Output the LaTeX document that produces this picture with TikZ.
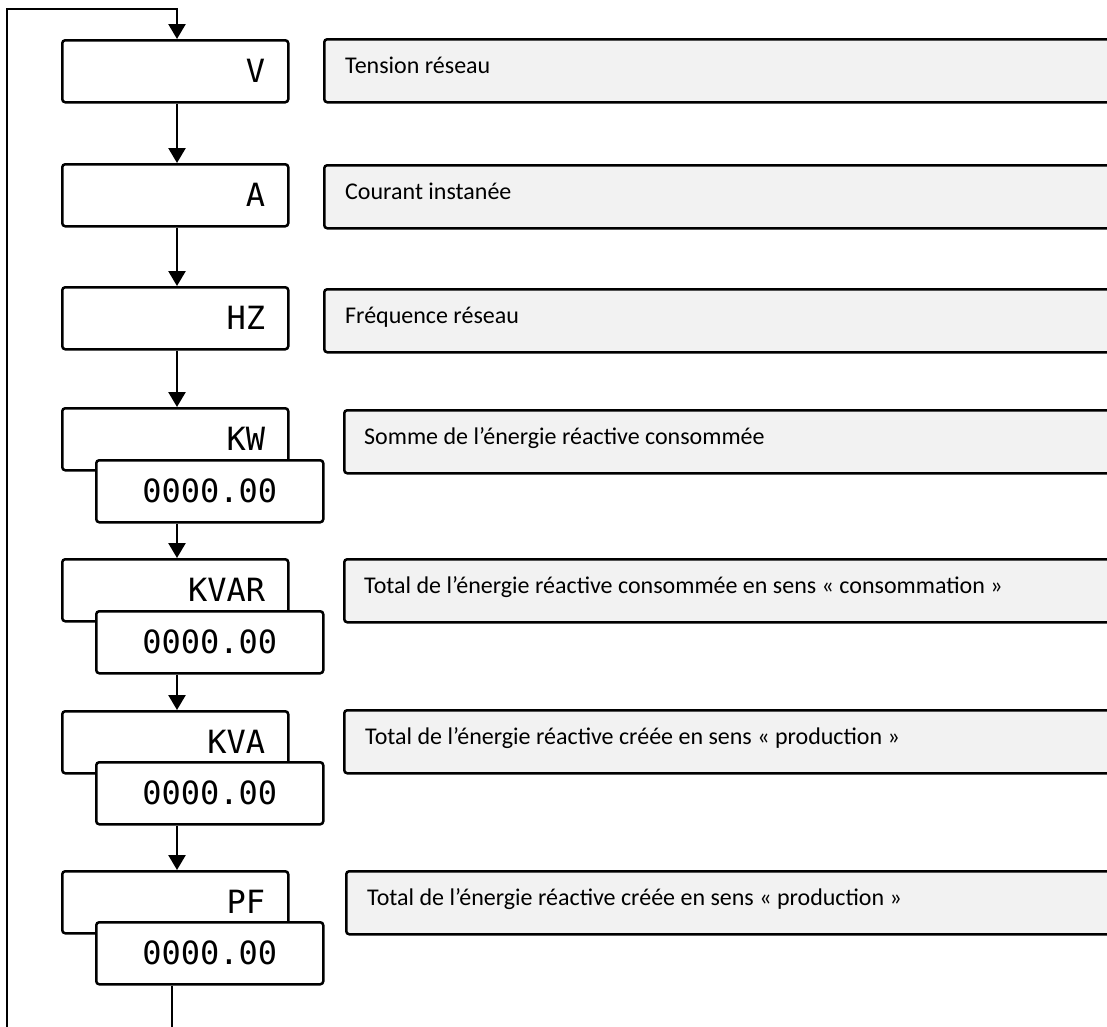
\documentclass[tikz,border=0pt]{standalone}
\usepackage{fontspec}
\setmainfont{Carlito}
\newfontfamily\lcdfont{DejaVu Sans Mono}
\usepackage{xcolor}
\usetikzlibrary{arrows.meta, calc}
\definecolor{infogray}{HTML}{F2F2F2}

\begin{document}
\begin{tikzpicture}[
    x=1pt, y=-1pt,
    disp/.style={rectangle, draw, rounded corners=3pt, line width=2.5pt, fill=white, anchor=north west, minimum width=226pt, minimum height=62pt, text width=180pt, align=right, inner xsep=23pt, inner ysep=0pt, font=\lcdfont\fontsize{32}{34}\selectfont},
    value/.style={rectangle, draw, rounded corners=3pt, line width=2.5pt, fill=white, anchor=north west, minimum width=227pt, minimum height=62pt, align=center, inner sep=0pt, font=\lcdfont\fontsize{32}{34}\selectfont},
    info/.style={rectangle, draw, rounded corners=3pt, line width=2.5pt, fill=infogray, anchor=north west, minimum width=820pt, minimum height=63pt},
    infotext/.style={anchor=base west, inner sep=0pt, font=\fontsize{24}{28}\selectfont},
    arrow/.style={-{Triangle[length=15pt, width=17pt]}, line width=2.5pt}
]
\useasboundingbox (0,0) rectangle (1107,1026);
\clip (0,0) rectangle (1107,1026);

% Displays
\node[disp] (v) at (61,39) {V};
\node[disp] (a) at (61,163) {A};
\node[disp] (hz) at (61,286) {HZ};

\node[disp] (kw) at (61,407) {KW};
\node[value] (kwval) at (95,459) {0000.00};

\node[disp] (kvar) at (61,558) {KVAR};
\node[value] (kvarval) at (95,610) {0000.00};

\node[disp] (kva) at (61,710) {KVA};
\node[value] (kvaval) at (95,761) {0000.00};

\node[disp] (pf) at (61,870) {PF};
\node[value] (pfval) at (95,921) {0000.00};

% Descriptions
\node[info] (vinfo) at (323,38) {};
\node[infotext] (vtext) at ($(vinfo.north west)+(22,35)$) {Tension réseau};
\node[info] (ainfo) at (323,164) {};
\node[infotext] (atext) at ($(ainfo.north west)+(22,35)$) {Courant instanée};
\node[info] (hzinfo) at (323,288) {};
\node[infotext] (hztext) at ($(hzinfo.north west)+(22,35)$) {Fréquence réseau};
\node[info] (kwinfo) at (343,409) {};
\node[infotext] (kwtext) at ($(kwinfo.north west)+(21,35)$) {Somme de l’énergie réactive consommée};
\node[info] (kvarinfo) at (343,558) {};
\node[infotext] (kvartext) at ($(kvarinfo.north west)+(21,35)$) {Total de l’énergie réactive consommée en sens « consommation »};
\node[info] (kvainfo) at (343,709) {};
\node[infotext] (kvatext) at ($(kvainfo.north west)+(22,35)$) {Total de l’énergie réactive créée en sens « production »};
\node[info] (pfinfo) at (345,870) {};
\node[infotext] (pftext) at ($(pfinfo.north west)+(22,35)$) {Total de l’énergie réactive créée en sens « production »};

% Arrows
\coordinate (axis) at (177,0);
\coordinate (back) at (172,0);
\coordinate (loop) at (7,9);
\draw[arrow] (v.south -| axis) -- (a.north -| axis);
\draw[arrow] (a.south -| axis) -- (hz.north -| axis);
\draw[arrow] (hz.south -| axis) -- (kw.north -| axis);
\draw[arrow] (kwval.south -| axis) -- (kvar.north -| axis);
\draw[arrow] (kvarval.south -| axis) -- (kva.north -| axis);
\draw[arrow] (kvaval.south -| axis) -- (pf.north -| axis);
\draw[arrow] (pfval.south -| back) -- ++(0,70) -| (loop) -| (v.north -| axis);

\end{tikzpicture}
\end{document}
